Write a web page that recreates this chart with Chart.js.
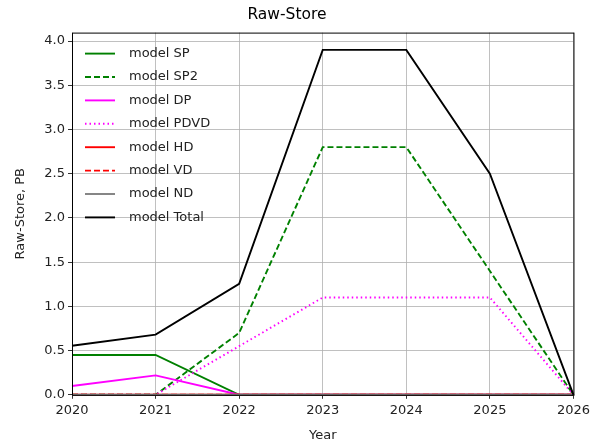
<!DOCTYPE html>
<html>
<head>
<meta charset="utf-8">
<script src="https://cdn.jsdelivr.net/npm/chart.js@4/dist/chart.umd.min.js"></script>
<style>
  html, body { margin: 0; padding: 0; background: #fff; }
  #wrap { width: 594px; height: 444px; }
</style>
</head>
<body>
<div id="wrap"><canvas id="chart" width="594" height="444"></canvas></div>
<script>
// data
const years = [2020, 2021, 2022, 2023, 2024, 2025, 2026];
const modelSP    = [0.45, 0.45, 0.0, 0.0, 0.0, 0.0, 0.0];
const modelSP2   = [0.0, 0.0, 0.70, 2.8, 2.8, 1.4, 0.0];
const modelDP    = [0.10, 0.22, 0.0, 0.0, 0.0, 0.0, 0.0];
const modelPDVD  = [0.0, 0.0, 0.55, 1.1, 1.1, 1.1, 0.0];
const modelHD    = [0, 0, 0, 0, 0, 0, 0];
const modelVD    = [0, 0, 0, 0, 0, 0, 0];
const modelND    = [0, 0, 0, 0, 0, 0, 0];
const modelTotal = [0.555, 0.68, 1.255, 3.9, 3.9, 2.5, 0.0];
const yTicks = [0.0, 0.5, 1.0, 1.5, 2.0, 2.5, 3.0, 3.5, 4.0];

const FONT = "'DejaVu Sans', sans-serif";

const series = [
    { label: "model SP",    data: modelSP,    color: "#008000", dash: [] },
    { label: "model SP2",   data: modelSP2,   color: "#008000", dash: [6, 3] },
    { label: "model DP",    data: modelDP,    color: "#ff00ff", dash: [] },
    { label: "model PDVD",  data: modelPDVD,  color: "#ff00ff", dash: [1.5, 3] },
    { label: "model HD",    data: modelHD,    color: "#ff0000", dash: [] },
    { label: "model VD",    data: modelVD,    color: "#ff0000", dash: [6, 3] },
    { label: "model ND",    data: modelND,    color: "#808080", dash: [] },
    { label: "model Total", data: modelTotal, color: "#000000", dash: [] },
];

const datasets = series.map((s, i) => ({
    label: s.label,
    data: s.data.map((v, j) => ({ x: years[j], y: v })),
    borderColor: s.color,
    backgroundColor: s.color,
    borderDash: s.dash,
    borderWidth: 1.9,
    pointRadius: 0,
    tension: 0,
    fill: false,
    clip: 3,
    order: series.length - i,   // later series drawn on top
}));

// frame round the plot area plus a matplotlib-like legend inside it
const framePlugin = {
    id: "frame",
    afterDraw(chart) {
        const ctx = chart.ctx;
        const a = chart.chartArea;
        ctx.save();
        ctx.strokeStyle = "#000";
        ctx.lineWidth = 1;
        ctx.setLineDash([]);
        ctx.strokeRect(a.left + 0.5, a.top + 0.5, a.right - a.left, a.bottom - a.top);

        // legend
        ctx.font = "13px " + FONT;
        ctx.textBaseline = "middle";
        ctx.textAlign = "left";
        const x0 = a.left + 13, x1 = a.left + 43, tx = a.left + 57;
        let y = a.top + 21;
        series.forEach(s => {
            ctx.strokeStyle = s.color;
            ctx.lineWidth = 1.9;
            ctx.setLineDash(s.dash);
            ctx.beginPath();
            ctx.moveTo(x0, y);
            ctx.lineTo(x1, y);
            ctx.stroke();
            ctx.fillStyle = "#222";
            ctx.fillText(s.label, tx, y);
            y += 23.4;
        });
        ctx.restore();
    }
};

const ctx = document.getElementById("chart").getContext("2d");
let myChart = new Chart(ctx, {
    type: "line",
    data: { datasets: datasets },
    options: {
        responsive: false,
        animation: false,
        layout: { padding: { left: 0, right: 20, top: 0, bottom: 0 } },
        plugins: {
            legend: { display: false },
            tooltip: { enabled: false },
            title: {
                display: true,
                text: "Raw-Store",
                color: "#000",
                font: { family: FONT, size: 15.5, weight: "normal" },
                padding: { top: 6, bottom: 8 },
            },
        },
        scales: {
            x: {
                type: "linear",
                min: 2020,
                max: 2026,
                ticks: {
                    stepSize: 1,
                    color: "#222",
                    font: { family: FONT, size: 13 },
                    padding: 4,
                    maxRotation: 0,
                    callback: v => String(v),
                },
                grid: { color: "#b0b0b0", tickColor: "#000", tickLength: 4, lineWidth: 0.8 },
                border: { display: false },
                title: {
                    display: true,
                    text: "Year",
                    color: "#222",
                    font: { family: FONT, size: 13 },
                    padding: { top: 5, bottom: 1 },
                },
            },
            y: {
                type: "linear",
                min: 0,
                max: 4.095,
                afterBuildTicks: scale => { scale.ticks = yTicks.map(v => ({ value: v })); },
                afterFit: scale => { scale.width = 72; },
                ticks: {
                    color: "#222",
                    font: { family: FONT, size: 13 },
                    padding: 3,
                    callback: v => v.toFixed(1),
                },
                grid: { color: "#b0b0b0", tickColor: "#000", tickLength: 4, lineWidth: 0.8 },
                border: { display: false },
                title: {
                    display: true,
                    text: "Raw-Store, PB",
                    color: "#222",
                    font: { family: FONT, size: 13 },
                    padding: { top: 13, bottom: 4 },
                },
            },
        },
    },
    plugins: [framePlugin],
});
</script>
</body>
</html>
